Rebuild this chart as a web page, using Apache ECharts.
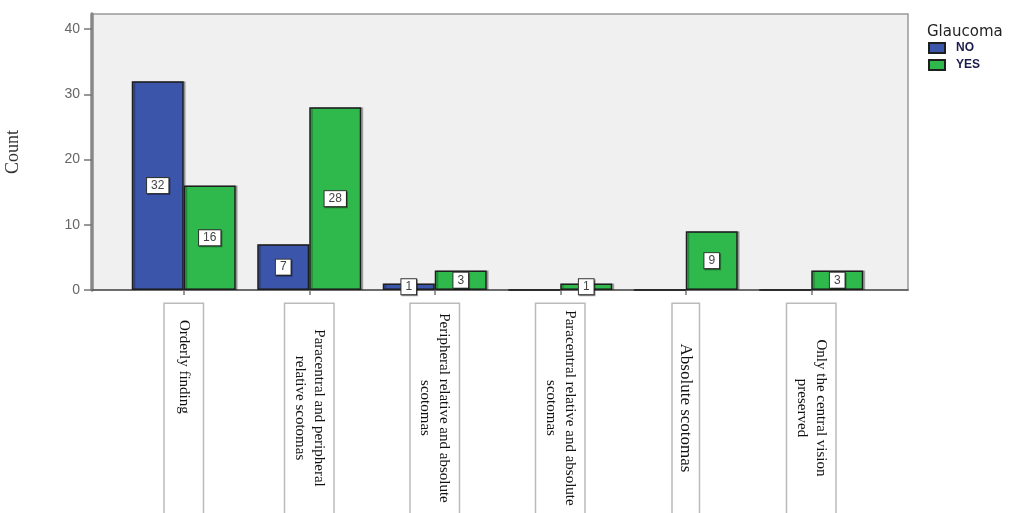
<!DOCTYPE html>
<html>
<head>
<meta charset="utf-8">
<script src="https://cdn.jsdelivr.net/npm/echarts@6/dist/echarts.min.js"></script>
<style>
  html, body { margin: 0; padding: 0; background: #ffffff; }
  #chart { width: 1024px; height: 513px; }
</style>
</head>
<body>
<div id="chart"></div>
<script>
// Visual field findings, counted by glaucoma status
const categories = [
  'Orderly finding',
  'Paracentral and peripheral\nrelative scotomas',
  'Peripheral relative and absolute\nscotomas',
  'Paracentral relative and absolute\nscotomas',
  'Absolute scotomas',
  'Only the central vision\npreserved'
];
const seriesNames = ['NO', 'YES'];
const countNo = [32, 7, 1, 0, 0, 0];
const countYes = [16, 28, 3, 1, 9, 3];
const yTicks = [0, 10, 20, 30, 40];

const AXIS_MAX = 42.3;
const COLORS = ['#3b55ab', '#2fb84b'];

const chart = echarts.init(document.getElementById('chart'), null, { renderer: 'canvas' });

function barData(values) {
  return values.map(v => v === 0 ? { value: v, label: { show: false } } : v);
}

function barSeries(name, values, color) {
  return {
    name: name,
    type: 'bar',
    xAxisIndex: 1,
    yAxisIndex: 1,
    barWidth: 52,
    barGap: '0%',
    data: barData(values),
    itemStyle: {
      color: color,
      borderColor: '#1e1e1e',
      borderWidth: 1.5,
      shadowColor: 'rgba(0,0,0,0.25)',
      shadowOffsetX: 2,
      shadowOffsetY: 0,
      shadowBlur: 0
    },
    label: {
      show: true,
      position: 'inside',
      color: '#444',
      fontFamily: 'Liberation Sans, Arial, sans-serif',
      fontSize: 12,
      backgroundColor: '#ffffff',
      borderColor: '#333',
      borderWidth: 1,
      padding: [2, 4, 1, 4],
      shadowColor: 'rgba(0,0,0,0.35)',
      shadowOffsetX: 1,
      shadowOffsetY: 1,
      shadowBlur: 0
    }
  };
}

const serif = 'Liberation Serif, Times New Roman, serif';

const option = {
  backgroundColor: '#ffffff',
  animation: false,
  title: {
    text: 'Glaucoma',
    left: 922,
    top: 20,
    textStyle: {
      fontFamily: 'DejaVu Sans, Verdana, sans-serif',
      fontSize: 15,
      fontWeight: 'normal',
      color: '#222'
    }
  },
  legend: {
    data: seriesNames,
    orient: 'vertical',
    left: 923,
    top: 37,
    itemWidth: 16,
    itemHeight: 10,
    itemGap: 5,
    icon: 'rect',
    textStyle: {
      fontFamily: 'Liberation Sans, Arial, sans-serif',
      fontSize: 12,
      fontWeight: 'bold',
      color: '#1c1c4e',
      padding: [0, 0, 0, 6]
    }
  },
  grid: [
    // frame: background, border and the count axis
    {
      left: 92, right: 116, top: 14, bottom: 223,
      outerBoundsMode: 'none',
      containLabel: false,
      show: true,
      backgroundColor: '#f0f0f0',
      borderColor: '#999',
      borderWidth: 1.5
    },
    // category band holding the bars
    {
      left: 121, right: 150, top: 14, bottom: 223,
      outerBoundsMode: 'none',
      containLabel: false
    }
  ],
  xAxis: [
    {
      type: 'value',
      gridIndex: 0,
      min: 0, max: 1,
      axisLine: { show: true, lineStyle: { color: '#555', width: 1.5 } },
      axisTick: { show: false },
      axisLabel: { show: false },
      splitLine: { show: false }
    },
    {
      type: 'category',
      gridIndex: 1,
      data: categories,
      axisLine: { show: false },
      axisTick: {
        show: true,
        alignWithLabel: true,
        length: 5,
        lineStyle: { color: '#777', width: 1.5 }
      },
      axisLabel: {
        interval: 0,
        rotate: -90,
        margin: 14,
        color: '#111',
        fontFamily: serif,
        fontSize: 15,
        borderColor: '#bbb',
        borderWidth: 1.5,
        backgroundColor: '#ffffff',
        padding: [5, 60, 5, 4],
        formatter: function (value, index) {
          const style = index === 0 ? 'l' : (index === 4 ? 'big' : 'c');
          return value.split('\n').map(line => '{' + style + '|' + line + '}').join('\n');
        },
        rich: {
          c: { align: 'center', width: 200, fontSize: 15, lineHeight: 19, fontFamily: serif, color: '#111' },
          l: { align: 'left', width: 200, fontSize: 15, lineHeight: 28, padding: [0, 0, 0, 12], fontFamily: serif, color: '#111' },
          big: { align: 'center', width: 200, fontSize: 17, lineHeight: 16, fontFamily: serif, color: '#111' }
        }
      }
    }
  ],
  yAxis: [
    {
      type: 'value',
      gridIndex: 0,
      min: 0,
      max: AXIS_MAX,
      name: 'Count',
      nameLocation: 'middle',
      nameGap: 70,
      nameTextStyle: {
        fontFamily: serif,
        fontSize: 18,
        color: '#333'
      },
      axisLine: { show: true, lineStyle: { color: '#888', width: 3.5 } },
      axisTick: {
        show: true,
        length: 8,
        customValues: yTicks,
        lineStyle: { color: '#777', width: 1.5 }
      },
      axisLabel: {
        customValues: yTicks,
        margin: 12,
        color: '#666',
        fontFamily: 'Liberation Sans, Arial, sans-serif',
        fontSize: 14
      },
      splitLine: { show: false }
    },
    {
      type: 'value',
      gridIndex: 1,
      min: 0,
      max: AXIS_MAX,
      show: false,
      splitLine: { show: false }
    }
  ],
  series: [
    barSeries(seriesNames[0], countNo, COLORS[0]),
    barSeries(seriesNames[1], countYes, COLORS[1])
  ]
};

chart.setOption(option);
</script>
</body>
</html>
